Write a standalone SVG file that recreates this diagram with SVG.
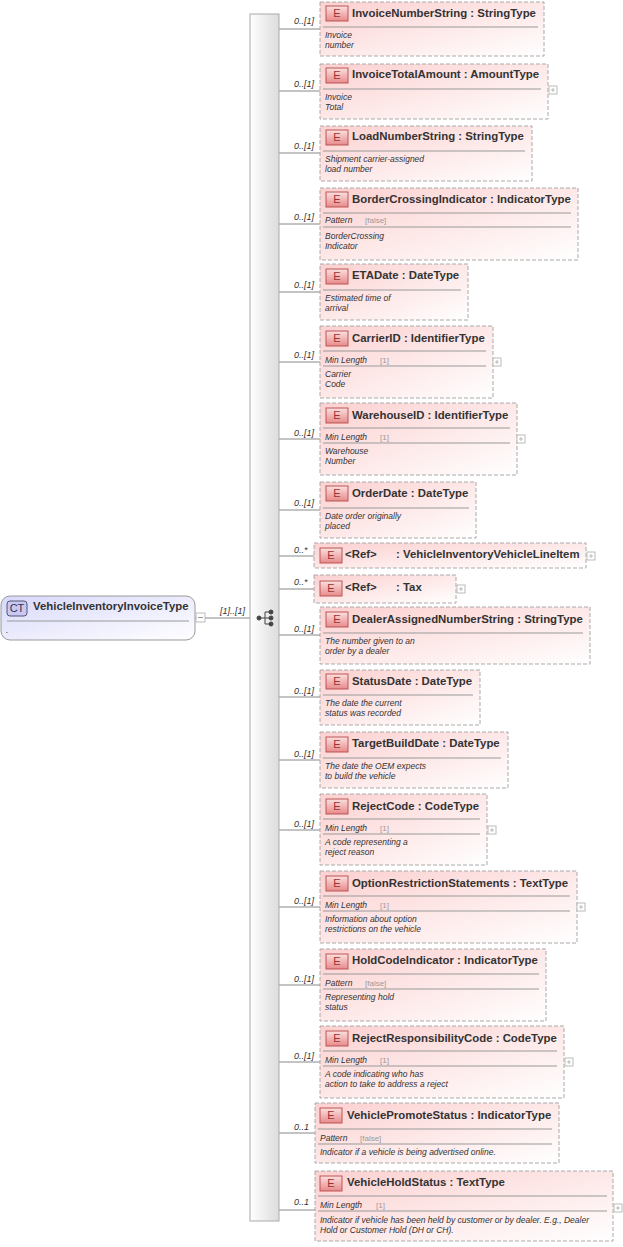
<svg xmlns="http://www.w3.org/2000/svg" width="623" height="1247" viewBox="0 0 623 1247">
<defs>
<linearGradient id="eg" x1="0" y1="0" x2="1" y2="1"><stop offset="0" stop-color="#fcd0d0"/><stop offset="1" stop-color="#ffffff"/></linearGradient>
<linearGradient id="bg" x1="0" y1="0" x2="0" y2="1"><stop offset="0" stop-color="#fbe0e0"/><stop offset="1" stop-color="#e88a8a"/></linearGradient>
<linearGradient id="cg" x1="0" y1="0" x2="1" y2="1"><stop offset="0" stop-color="#d8d8fb"/><stop offset="1" stop-color="#ffffff"/></linearGradient>
<linearGradient id="sg" x1="0" y1="0" x2="1" y2="0"><stop offset="0" stop-color="#ffffff"/><stop offset="1" stop-color="#dcdcdc"/></linearGradient>
<style>
.n{fill:url(#eg);stroke:#aaa;stroke-dasharray:4,2}
.b{fill:url(#bg);stroke:#b55}
.bt{font:11px "Liberation Sans",sans-serif;fill:#933;text-anchor:middle}
.t{font:bold 11.4px "Liberation Sans",sans-serif;fill:#333}
.d{font:italic 8.5px "Liberation Sans",sans-serif;fill:#333}
.p{font:8px "Liberation Sans",sans-serif;fill:#999}
.s{stroke:#999;stroke-width:1}
.c{fill:none;stroke:#888}
.m{font:italic 9px "Liberation Sans",sans-serif;fill:#333}
.x{fill:#fff;stroke:#bbb}
</style>
</defs>
<g id="connectors" class="c">
<line x1="195" y1="618" x2="250" y2="618"/>
<path d="M279 29H320M279 91H320M279 153H320M279 224H320M279 292H320M279 362H320M279 439H320M279 510H320M279 556H314M279 589H314M279 635H320M279 697H320M279 760H320M279 830H320M279 907H320M279 985H320M279 1062H320M279 1133H315M279 1210H315"/>
</g>
<g id="labels" class="m">
<text x="294" y="24">0..[1]</text><text x="294" y="87">0..[1]</text><text x="294" y="149">0..[1]</text><text x="294" y="220">0..[1]</text><text x="294" y="288">0..[1]</text><text x="294" y="358">0..[1]</text><text x="294" y="436">0..[1]</text><text x="294" y="506">0..[1]</text><text x="294" y="553">0..*</text><text x="294" y="585">0..*</text><text x="294" y="632">0..[1]</text><text x="294" y="694">0..[1]</text><text x="294" y="757">0..[1]</text><text x="294" y="827">0..[1]</text><text x="294" y="904">0..[1]</text><text x="294" y="982">0..[1]</text><text x="294" y="1059">0..[1]</text><text x="294" y="1130">0..1</text><text x="294" y="1205">0..1</text>
<text x="220" y="614">[1]..[1]</text>
</g>
<g id="sequence">
<rect x="250" y="14" width="29" height="1207" fill="url(#sg)" stroke="#aaa"/>
<g stroke="#444" fill="#444"><circle cx="259" cy="618" r="2"/><line x1="259" y1="618" x2="265" y2="618"/><path d="M265 612V624M265 612H270M265 618H270M265 624H270" fill="none"/><circle cx="271" cy="612" r="2"/><circle cx="271" cy="618" r="2"/><circle cx="271" cy="624" r="2"/></g>
</g>
<g id="root">
<rect x="1" y="596" width="194" height="44" rx="9" fill="url(#cg)" stroke="#999"/>
<rect x="7" y="601" width="20" height="15" rx="3" fill="#c8c8f0" stroke="#557"/>
<text x="17" y="612" font-family="Liberation Sans,sans-serif" font-size="11" fill="#335" text-anchor="middle">CT</text>
<text x="33" y="610" class="t">VehicleInventoryInvoiceType</text>
<line x1="7" y1="621" x2="189" y2="621" class="s"/>
<text x="6" y="633" class="d">.</text>
<rect x="196" y="613" width="9" height="9" class="x"/><line x1="198" y1="617.5" x2="203" y2="617.5" stroke="#999"/>
</g>
<g id="n1"><rect class="n" x="320" y="2" width="224" height="54"/><rect class="b" x="326" y="6" width="22" height="15"/><text class="bt" x="337" y="17">E</text><text class="t" x="352" y="17">InvoiceNumberString : StringType</text><line class="s" x1="323" y1="27" x2="538" y2="27"/><text class="d" x="325" y="38">Invoice</text><text class="d" x="325" y="48">number</text></g>
<g id="n2"><rect class="n" x="320" y="64" width="228" height="55"/><rect class="b" x="326" y="68" width="22" height="15"/><text class="bt" x="337" y="79">E</text><text class="t" x="352" y="78">InvoiceTotalAmount : AmountType</text><line class="s" x1="323" y1="89" x2="541" y2="89"/><text class="d" x="325" y="100">Invoice</text><text class="d" x="325" y="110">Total</text><rect class="x" x="549" y="86" width="8" height="8"/><path d="M553 88V92M551 90H555" stroke="#bbb"/></g>
<g id="n3"><rect class="n" x="320" y="126" width="212" height="55"/><rect class="b" x="326" y="130" width="22" height="15"/><text class="bt" x="337" y="141">E</text><text class="t" x="352" y="140">LoadNumberString : StringType</text><line class="s" x1="323" y1="151" x2="525" y2="151"/><text class="d" x="325" y="162">Shipment carrier-assigned</text><text class="d" x="325" y="172">load number</text></g>
<g id="n4"><rect class="n" x="320" y="188" width="258" height="72"/><rect class="b" x="326" y="192" width="22" height="15"/><text class="bt" x="337" y="203">E</text><text class="t" x="352" y="203">BorderCrossingIndicator : IndicatorType</text><line class="s" x1="323" y1="213" x2="571" y2="213"/><text class="d" x="325" y="223">Pattern</text><text class="p" x="365" y="223">[false]</text><line class="s" x1="323" y1="227" x2="571" y2="227"/><text class="d" x="325" y="239">BorderCrossing</text><text class="d" x="325" y="249">Indicator</text></g>
<g id="n5"><rect class="n" x="320" y="264" width="148" height="56"/><rect class="b" x="326" y="269" width="22" height="15"/><text class="bt" x="337" y="280">E</text><text class="t" x="352" y="279">ETADate : DateType</text><line class="s" x1="323" y1="290" x2="461" y2="290"/><text class="d" x="325" y="301">Estimated time of</text><text class="d" x="325" y="311">arrival</text></g>
<g id="n6"><rect class="n" x="320" y="326" width="173" height="72"/><rect class="b" x="326" y="331" width="22" height="15"/><text class="bt" x="337" y="342">E</text><text class="t" x="352" y="342">CarrierID : IdentifierType</text><line class="s" x1="323" y1="351" x2="486" y2="351"/><text class="d" x="325" y="363">Min Length</text><text class="p" x="380" y="363">[1]</text><line class="s" x1="323" y1="366" x2="486" y2="366"/><text class="d" x="325" y="377">Carrier</text><text class="d" x="325" y="387">Code</text><rect class="x" x="493" y="358" width="8" height="8"/><path d="M497 360V364M495 362H499" stroke="#bbb"/></g>
<g id="n7"><rect class="n" x="320" y="403" width="197" height="72"/><rect class="b" x="326" y="408" width="22" height="15"/><text class="bt" x="337" y="419">E</text><text class="t" x="352" y="419">WarehouseID : IdentifierType</text><line class="s" x1="323" y1="428" x2="510" y2="428"/><text class="d" x="325" y="440">Min Length</text><text class="p" x="380" y="440">[1]</text><line class="s" x1="323" y1="443" x2="510" y2="443"/><text class="d" x="325" y="454">Warehouse</text><text class="d" x="325" y="464">Number</text><rect class="x" x="517" y="435" width="8" height="8"/><path d="M521 437V441M519 439H523" stroke="#bbb"/></g>
<g id="n8"><rect class="n" x="320" y="482" width="156" height="56"/><rect class="b" x="326" y="486" width="22" height="15"/><text class="bt" x="337" y="497">E</text><text class="t" x="352" y="497">OrderDate : DateType</text><line class="s" x1="323" y1="508" x2="469" y2="508"/><text class="d" x="325" y="519">Date order originally</text><text class="d" x="325" y="529">placed</text></g>
<g id="n9"><rect class="n" x="314" y="543" width="272" height="25"/><rect class="b" x="320" y="548" width="22" height="15"/><text class="bt" x="331" y="559">E</text><text class="t" x="345" y="558">&lt;Ref&gt;</text><text class="t" x="396" y="558">: VehicleInventoryVehicleLineItem</text><rect class="x" x="587" y="552" width="8" height="8"/><path d="M591 554V558M589 556H593" stroke="#bbb"/></g>
<g id="n10"><rect class="n" x="314" y="575" width="142" height="28"/><rect class="b" x="320" y="581" width="22" height="15"/><text class="bt" x="331" y="592">E</text><text class="t" x="345" y="591">&lt;Ref&gt;</text><text class="t" x="396" y="591">: Tax</text><rect class="x" x="457" y="585" width="8" height="8"/><path d="M461 587V591M459 589H463" stroke="#bbb"/></g>
<g id="n11"><rect class="n" x="320" y="607" width="270" height="57"/><rect class="b" x="326" y="612" width="22" height="15"/><text class="bt" x="337" y="623">E</text><text class="t" x="352" y="623">DealerAssignedNumberString : StringType</text><line class="s" x1="323" y1="633" x2="583" y2="633"/><text class="d" x="325" y="644">The number given to an</text><text class="d" x="325" y="654">order by a dealer</text></g>
<g id="n12"><rect class="n" x="320" y="670" width="160" height="55"/><rect class="b" x="326" y="674" width="22" height="15"/><text class="bt" x="337" y="685">E</text><text class="t" x="352" y="685">StatusDate : DateType</text><line class="s" x1="323" y1="695" x2="473" y2="695"/><text class="d" x="325" y="706">The date the current</text><text class="d" x="325" y="716">status was recorded</text></g>
<g id="n13"><rect class="n" x="320" y="732" width="188" height="56"/><rect class="b" x="326" y="737" width="22" height="15"/><text class="bt" x="337" y="748">E</text><text class="t" x="352" y="747">TargetBuildDate : DateType</text><line class="s" x1="323" y1="758" x2="501" y2="758"/><text class="d" x="325" y="769">The date the OEM expects</text><text class="d" x="325" y="779">to build the vehicle</text></g>
<g id="n14"><rect class="n" x="320" y="794" width="167" height="71"/><rect class="b" x="326" y="799" width="22" height="15"/><text class="bt" x="337" y="810">E</text><text class="t" x="352" y="810">RejectCode : CodeType</text><line class="s" x1="323" y1="819" x2="480" y2="819"/><text class="d" x="325" y="831">Min Length</text><text class="p" x="380" y="831">[1]</text><line class="s" x1="323" y1="834" x2="480" y2="834"/><text class="d" x="325" y="845">A code representing a</text><text class="d" x="325" y="855">reject reason</text><rect class="x" x="488" y="826" width="8" height="8"/><path d="M492 828V832M490 830H494" stroke="#bbb"/></g>
<g id="n15"><rect class="n" x="320" y="871" width="257" height="72"/><rect class="b" x="326" y="876" width="22" height="15"/><text class="bt" x="337" y="887">E</text><text class="t" x="352" y="887">OptionRestrictionStatements : TextType</text><line class="s" x1="323" y1="896" x2="570" y2="896"/><text class="d" x="325" y="908">Min Length</text><text class="p" x="380" y="908">[1]</text><line class="s" x1="323" y1="911" x2="570" y2="911"/><text class="d" x="325" y="922">Information about option</text><text class="d" x="325" y="932">restrictions on the vehicle</text><rect class="x" x="577" y="903" width="8" height="8"/><path d="M581 905V909M579 907H583" stroke="#bbb"/></g>
<g id="n16"><rect class="n" x="320" y="949" width="226" height="72"/><rect class="b" x="326" y="954" width="22" height="15"/><text class="bt" x="337" y="965">E</text><text class="t" x="352" y="964">HoldCodeIndicator : IndicatorType</text><line class="s" x1="323" y1="974" x2="539" y2="974"/><text class="d" x="325" y="986">Pattern</text><text class="p" x="365" y="986">[false]</text><line class="s" x1="323" y1="989" x2="539" y2="989"/><text class="d" x="325" y="1000">Representing hold</text><text class="d" x="325" y="1010">status</text></g>
<g id="n17"><rect class="n" x="320" y="1026" width="244" height="72"/><rect class="b" x="326" y="1031" width="22" height="15"/><text class="bt" x="337" y="1042">E</text><text class="t" x="352" y="1042">RejectResponsibilityCode : CodeType</text><line class="s" x1="323" y1="1051" x2="557" y2="1051"/><text class="d" x="325" y="1063">Min Length</text><text class="p" x="380" y="1063">[1]</text><line class="s" x1="323" y1="1066" x2="557" y2="1066"/><text class="d" x="325" y="1077">A code indicating who has</text><text class="d" x="325" y="1087">action to take to address a reject</text><rect class="x" x="565" y="1058" width="8" height="8"/><path d="M569 1060V1064M567 1062H571" stroke="#bbb"/></g>
<g id="n18"><rect class="n" x="315" y="1103" width="244" height="60"/><rect class="b" x="320" y="1108" width="22" height="15"/><text class="bt" x="331" y="1119">E</text><text class="t" x="347" y="1119">VehiclePromoteStatus : IndicatorType</text><line class="s" x1="318" y1="1129" x2="552" y2="1129"/><text class="d" x="320" y="1141">Pattern</text><text class="p" x="360" y="1141">[false]</text><line class="s" x1="318" y1="1144" x2="552" y2="1144"/><text class="d" x="320" y="1155">Indicator if a vehicle is being advertised online.</text></g>
<g id="n19"><rect class="n" x="315" y="1171" width="298" height="70"/><rect class="b" x="320" y="1176" width="22" height="15"/><text class="bt" x="331" y="1187">E</text><text class="t" x="347" y="1186">VehicleHoldStatus : TextType</text><line class="s" x1="318" y1="1196" x2="607" y2="1196"/><text class="d" x="320" y="1208">Min Length</text><text class="p" x="376" y="1208">[1]</text><line class="s" x1="318" y1="1211" x2="607" y2="1211"/><text class="d" x="320" y="1223">Indicator if vehicle has been held by customer or by dealer. E.g., Dealer</text><text class="d" x="320" y="1233">Hold or Customer Hold     (DH or CH).</text><rect class="x" x="614" y="1204" width="8" height="8"/><path d="M618 1206V1210M616 1208H620" stroke="#bbb"/></g>
</svg>
